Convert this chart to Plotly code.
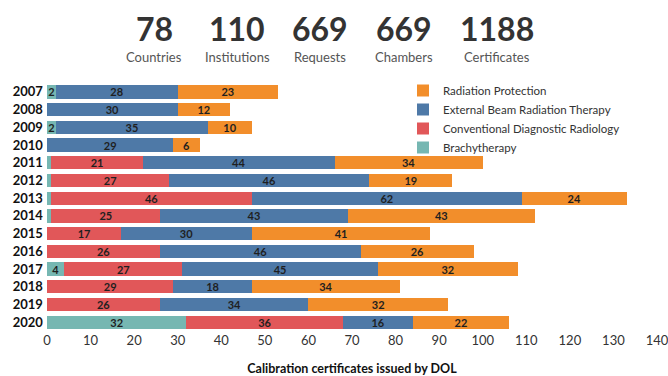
import plotly.graph_objects as go

years = ["2007", "2008", "2009", "2010", "2011", "2012", "2013", "2014",
         "2015", "2016", "2017", "2018", "2019", "2020"]
brachy = [2, 0, 2, 0, 1, 1, 1, 1, 0, 0, 4, 0, 0, 32]
diag = [0, 0, 0, 0, 21, 27, 46, 25, 17, 26, 27, 29, 26, 36]
ebrt = [28, 30, 35, 29, 44, 46, 62, 43, 30, 46, 45, 18, 34, 16]
radprot = [23, 12, 10, 6, 34, 19, 24, 43, 41, 26, 32, 34, 32, 22]

kpi_values = ["78", "110", "669", "669", "1188"]
kpi_labels = ["Countries", "Institutions", "Requests", "Chambers", "Certificates"]
x_ticks = list(range(0, 141, 10))

series = [
    ("Brachytherapy", brachy, "#76B7B2"),
    ("Conventional Diagnostic Radiology", diag, "#E15759"),
    ("External Beam Radiation Therapy", ebrt, "#4E79A7"),
    ("Radiation Protection", radprot, "#F28E2B"),
]

W, H = 668, 376
ML, MR, MT, MB = 47, 11, 83, 45
PW = W - ML - MR
PH = H - MT - MB

fig = go.Figure()
for name, vals, col in series:
    fig.add_trace(go.Bar(
        y=years, x=vals, name=name, orientation="h",
        marker=dict(color=col, line=dict(width=0)),
        text=[str(v) if v >= 2 else "" for v in vals],
        textposition="inside", insidetextanchor="middle",
        textangle=0, constraintext="none",
        textfont=dict(family="Lato", size=11, color="#1f1f1f", weight="bold"),
    ))

def px_x(p):
    return (p - ML) / PW

def px_y(p):
    return (H - MB - p) / PH

kpi_x = [154, 237, 320, 404, 497]
for xv, val, lab in zip(kpi_x, kpi_values, kpi_labels):
    fig.add_annotation(x=px_x(xv), y=px_y(29), xref="paper", yref="paper",
                       text=val, showarrow=False, xanchor="center", yanchor="middle",
                       font=dict(family="Lato", size=32, color="#333333", weight="bold"))
    fig.add_annotation(x=px_x(xv), y=px_y(57), xref="paper", yref="paper",
                       text=lab, showarrow=False, xanchor="center", yanchor="middle",
                       font=dict(family="Lato", size=13, color="#555555"))

fig.update_layout(
    width=W, height=H,
    margin=dict(l=ML, r=MR, t=MT, b=MB, pad=0, autoexpand=False),
    barmode="stack", bargap=0.25,
    plot_bgcolor="white", paper_bgcolor="white",
    showlegend=True,
    legend=dict(x=px_x(403), y=px_y(76),
                xanchor="left", yanchor="top", traceorder="reversed",
                font=dict(family="Lato", size=11.5, color="#333333"),
                bgcolor="rgba(255,255,255,0)", tracegroupgap=0, itemwidth=30),
    xaxis=dict(range=[0, 140], tickvals=x_ticks, tickangle=0, showgrid=False, zeroline=False,
               showline=False, ticks="", ticklabeloverflow="allow",
               tickfont=dict(family="Lato", size=13, color="#333333"),
               title=dict(text="Calibration certificates issued by DOL", standoff=17,
                          font=dict(family="Lato", size=12.5, color="#111111", weight="bold"))),
    yaxis=dict(categoryorder="array", categoryarray=years, autorange="reversed",
               showgrid=False, zeroline=False, showline=False, ticks="",
               ticksuffix=" ",
               tickfont=dict(family="Lato", size=13, color="#111111", weight="bold")),
)

fig.write_html("out.html")
